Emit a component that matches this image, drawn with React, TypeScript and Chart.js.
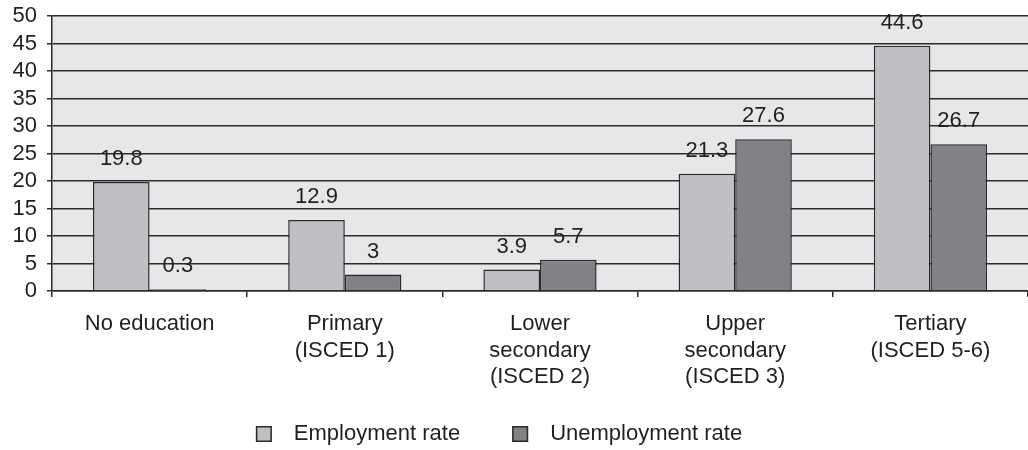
import React, { useEffect, useRef } from "react";
import { Chart, registerables } from "chart.js";

Chart.register(...registerables);

const categories: string[][] = [
  ["No education"],
  ["Primary", "(ISCED 1)"],
  ["Lower", "secondary", "(ISCED 2)"],
  ["Upper", "secondary", "(ISCED 3)"],
  ["Tertiary", "(ISCED 5-6)"],
];
const employmentRate = [19.8, 12.9, 3.9, 21.3, 44.6];
const unemploymentRate = [0.3, 3, 5.7, 27.6, 26.7];
const seriesNames = ["Employment rate", "Unemployment rate"];
const yMin = 0;
const yMax = 50;
const yStep = 5;

const FONT_FAMILY = '"Liberation Sans", Arial, Helvetica, sans-serif';
const TEXT_COLOR = "#231f20";
const LINE_COLOR = "#2a2a2a";
const PLOT_BG = "#e6e7e8";
const LIGHT = "#bfc0c4";
const DARK = "#818286";

const plotBackground = {
  id: "plotBackground",
  beforeDraw(chart: any) {
    const { ctx, chartArea } = chart;
    ctx.save();
    ctx.fillStyle = PLOT_BG;
    ctx.fillRect(chartArea.left, chartArea.top, chartArea.right - chartArea.left, chartArea.bottom - chartArea.top);
    ctx.restore();
  },
};

const valueLabels = {
  id: "valueLabels",
  afterDatasetDraw(chart: any, args: any) {
    const { ctx } = chart;
    const meta = args.meta;
    const ds = chart.data.datasets[args.index];
    ctx.save();
    ctx.font = `22px ${FONT_FAMILY}`;
    ctx.fillStyle = TEXT_COLOR;
    ctx.textAlign = "center";
    ctx.textBaseline = "middle";
    meta.data.forEach((bar: any, i: number) => {
      ctx.fillText(String(ds.data[i]), bar.x, bar.y - 23);
    });
    ctx.restore();
  },
};

const customLegend = {
  id: "customLegend",
  afterDraw(chart: any) {
    const { ctx } = chart;
    ctx.save();
    ctx.font = `22px ${FONT_FAMILY}`;
    const box = 16;
    const gapText = 22;
    const gapItem = 52;
    const items = chart.data.datasets.map((ds: any) => ({
      text: ds.label as string,
      color: ds.backgroundColor as string,
    }));
    let total = 0;
    items.forEach((it: any, i: number) => {
      total += box + gapText + ctx.measureText(it.text).width + (i < items.length - 1 ? gapItem : 0);
    });
    let x = 499 - total / 2;
    const cy = 434;
    items.forEach((it: any) => {
      ctx.fillStyle = it.color;
      ctx.fillRect(x, cy - box / 2, box, box);
      ctx.strokeStyle = LINE_COLOR;
      ctx.lineWidth = 1.5;
      ctx.strokeRect(x + 0.75, cy - box / 2 + 0.75, box - 1.5, box - 1.5);
      x += box + gapText;
      ctx.fillStyle = TEXT_COLOR;
      ctx.textAlign = "left";
      ctx.textBaseline = "middle";
      ctx.fillText(it.text, x, cy);
      x += ctx.measureText(it.text).width + gapItem;
    });
    ctx.restore();
  },
};

export default function App() {
  const canvasRef = useRef<HTMLCanvasElement | null>(null);

  useEffect(() => {
    if (!canvasRef.current) return;
    const chart = new Chart(canvasRef.current, {
      type: "bar",
      data: {
        labels: categories,
        datasets: [
          {
            label: seriesNames[0],
            data: employmentRate,
            backgroundColor: LIGHT,
            borderColor: LINE_COLOR,
            borderWidth: 1.5,
            barPercentage: 1,
            categoryPercentage: 0.58,
          },
          {
            label: seriesNames[1],
            data: unemploymentRate,
            backgroundColor: DARK,
            borderColor: LINE_COLOR,
            borderWidth: 1.5,
            barPercentage: 1,
            categoryPercentage: 0.58,
          },
        ],
      },
      options: {
        animation: false,
        responsive: false,
        maintainAspectRatio: false,
        layout: { padding: { top: 16, left: 0, right: 0, bottom: 0 } },
        plugins: {
          legend: { display: false },
          tooltip: { enabled: false },
          title: { display: false },
        },
        scales: {
          x: {
            offset: true,
            grid: {
              offset: true,
              drawOnChartArea: false,
              drawTicks: true,
              tickLength: 6,
              color: LINE_COLOR,
              lineWidth: 1.5,
            },
            border: { display: true, color: LINE_COLOR, width: 1.5 },
            ticks: {
              color: TEXT_COLOR,
              font: { family: FONT_FAMILY, size: 22, lineHeight: 1.2 },
              padding: 14,
              maxRotation: 0,
              autoSkip: false,
            },
            afterFit(scale: any) {
              scale.height = 159;
              scale.paddingLeft = 0;
              scale.paddingRight = 0;
            },
          },
          y: {
            min: yMin,
            max: yMax,
            ticks: {
              stepSize: yStep,
              autoSkip: false,
              color: TEXT_COLOR,
              font: { family: FONT_FAMILY, size: 22 },
              padding: 10,
            },
            grid: {
              color: LINE_COLOR,
              lineWidth: 1.5,
              tickLength: 5,
              drawTicks: true,
            },
            border: { display: true, color: LINE_COLOR, width: 1.5 },
            afterFit(scale: any) {
              scale.width = 52;
              scale.paddingTop = 0;
              scale.paddingBottom = 0;
            },
          },
        },
      },
      plugins: [plotBackground, valueLabels, customLegend],
    });
    return () => chart.destroy();
  }, []);

  return (
    <div style={{ position: "absolute", left: 0, top: 0, width: 1028, height: 450, background: "#ffffff" }}>
      <canvas ref={canvasRef} width={1028} height={450} style={{ width: 1028, height: 450, display: "block" }} />
    </div>
  );
}
